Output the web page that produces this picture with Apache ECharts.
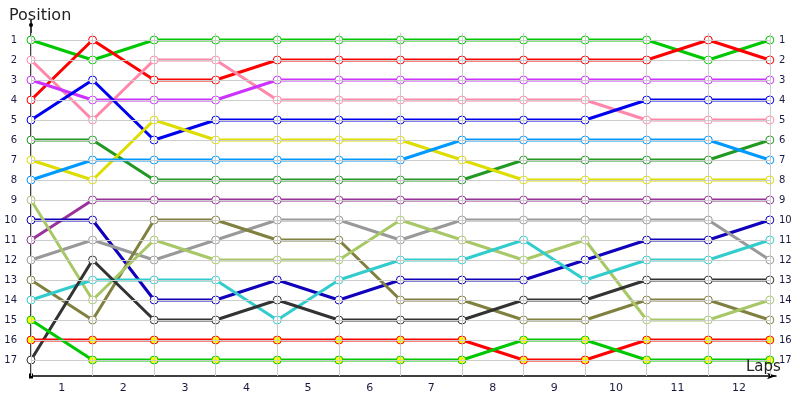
<!DOCTYPE html>
<html><head><meta charset="utf-8">
<script src="https://cdn.jsdelivr.net/npm/echarts@6/dist/echarts.min.js"></script>
<style>html,body{margin:0;padding:0;background:#fff}#c{width:800px;height:400px}</style>
</head><body><div id="c"></div>
<script>
const laps = [0,1,2,3,4,5,6,7,8,9,10,11,12];
const lapLabels = ['1','2','3','4','5','6','7','8','9','10','11','12'];
const positions = [1,2,3,4,5,6,7,8,9,10,11,12,13,14,15,16,17];

const greenA   = [1,2,1,1,1,1,1,1,1,1,1,2,1];
const redA     = [4,1,3,3,2,2,2,2,2,2,2,1,2];
const pinkA    = [2,5,2,2,4,4,4,4,4,4,5,5,5];
const purpleA  = [3,4,4,4,3,3,3,3,3,3,3,3,3];
const blueA    = [5,3,6,5,5,5,5,5,5,5,4,4,4];
const dkGreen  = [6,6,8,8,8,8,8,8,7,7,7,7,6];
const yellowA  = [7,8,5,6,6,6,6,7,8,8,8,8,8];
const ltBlue   = [8,7,7,7,7,7,7,6,6,6,6,6,7];
const dkPurple = [11,9,9,9,9,9,9,9,9,9,9,9,9];
const dkBlue   = [10,10,14,14,13,14,13,13,13,12,11,11,10];
const grayA    = [12,11,12,11,10,10,11,10,10,10,10,10,12];
const oliveA   = [13,15,10,10,11,11,14,14,15,15,14,14,15];
const ltGreen  = [9,14,11,12,12,12,10,11,12,11,15,15,14];
const cyanA    = [14,13,13,13,15,13,12,12,11,13,12,12,11];
const dkGray   = [17,12,15,15,14,15,15,15,14,14,13,13,13];
const redB     = [16,16,16,16,16,16,16,16,17,17,16,16,16];
const greenB   = [15,17,17,17,17,17,17,17,16,16,17,17,17];

const seriesDefs = [
  [greenA,'#00c800','#fff'],[redA,'#ff0000','#fff'],[pinkA,'#ff88aa','#fff'],
  [purpleA,'#cc33ff','#fff'],[blueA,'#0000f0','#fff'],[dkGreen,'#229922','#fff'],
  [yellowA,'#dddd00','#fff'],[ltBlue,'#0099ff','#fff'],[dkPurple,'#993399','#fff'],
  [dkBlue,'#1100bb','#fff'],[grayA,'#999999','#fff'],[oliveA,'#808040','#fff'],
  [ltGreen,'#a8c868','#fff'],[cyanA,'#33cccc','#fff'],[dkGray,'#333333','#fff'],
  [redB,'#ff0000','#ffff00'],[greenB,'#00c800','#ffff00']
];

const gridLines = [];
laps.forEach(x => gridLines.push([{coord:[x,0.65]},{coord:[x,17.8]}]));
positions.forEach(p => gridLines.push([{coord:[0,p]},{coord:[12,p]}]));

const series = [{
  type:'line', data:[], silent:true, z:1,
  markLine:{silent:true, symbol:['none','none'], label:{show:false},
    lineStyle:{color:'#cccccc', width:1, type:'solid'}, animation:false, data:gridLines}
}];
seriesDefs.forEach(([vals,col,fill],i) => {
  series.push({
    type:'line', z:2, data: laps.map((x,j)=>[x,vals[j]]),
    symbol:'circle', symbolSize:8, showAllSymbol:true,
    lineStyle:{color:col, width:3},
    itemStyle:{color:fill, borderColor:col, borderWidth:1},
    emphasis:{disabled:true}, animation:false
  });
});

const labelStyle = {color:'#1a1a40', fontFamily:'DejaVu Sans', fontSize:10};
const chart = echarts.init(document.getElementById('c'));
chart.setOption({
  animation:false,
  title:[
    {text:'Position', left:4, top:3, textStyle:{fontFamily:'DejaVu Sans', fontSize:16, fontWeight:'normal', color:'#222'}},
    {text:'Laps', left:741, top:355, textStyle:{fontFamily:'DejaVu Sans', fontSize:15, fontWeight:'normal', color:'#222'}}
  ],
  grid:{left:31, right:24, top:20, bottom:24, containLabel:false},
  xAxis:{type:'value', min:0, max:12.1, interval:0.5, position:'bottom',
    axisLine:{show:true, onZero:false, lineStyle:{color:'#000', width:1.5}, symbol:['none','arrow'], symbolSize:[5,9]},
    axisTick:{show:false}, splitLine:{show:false},
    axisLabel:{...labelStyle, fontSize:11, margin:7, formatter:v => (Math.abs(v%1-0.5)<1e-6) ? lapLabels[Math.floor(v)] : ''}
  },
  yAxis:[
    {type:'value', min:0, max:17.8, interval:1, inverse:true,
      axisLine:{show:true, onZero:false, lineStyle:{color:'#000', width:1.5}, symbol:['rect','circle'], symbolSize:[4,5], symbolOffset:[0,-5]},
      axisTick:{show:false}, splitLine:{show:false},
      axisLabel:{...labelStyle, margin:14, formatter:v => positions.includes(v) ? String(v) : ''}
    },
    {type:'value', min:0, max:17.8, interval:1, inverse:true, position:'right',
      axisLine:{show:false}, axisTick:{show:false}, splitLine:{show:false},
      axisLabel:{...labelStyle, margin:3, align:'left', formatter:v => positions.includes(v) ? String(v) : ''}
    }
  ],
  series
});
</script></body></html>
